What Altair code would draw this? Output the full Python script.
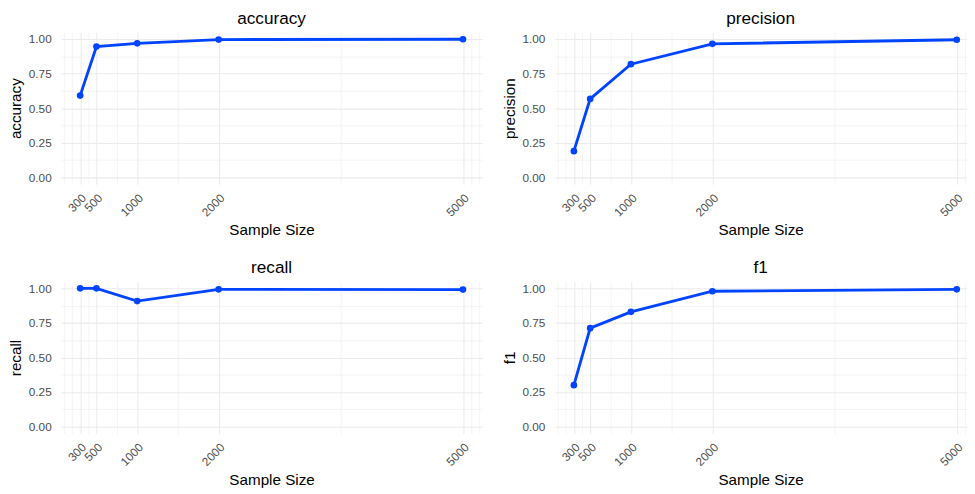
import altair as alt
import pandas as pd

# ---- data ----
sample_sizes = [300, 500, 1000, 2000, 5000]
accuracy = [0.591, 0.945, 0.969, 0.996, 0.998]
precision = [0.189, 0.567, 0.818, 0.965, 0.995]
recall = [1.000, 1.000, 0.908, 0.993, 0.991]
f1 = [0.300, 0.712, 0.830, 0.979, 0.993]

metric_names = ["accuracy", "precision", "recall", "f1"]
metric_values = [accuracy, precision, recall, f1]

x_major = [300, 500, 1000, 2000, 5000]
x_minor = [100, 200, 400, 750, 1500, 3500, 5100, 5200]
y_major = [0.0, 0.25, 0.5, 0.75, 1.0]
y_minor = [0.125, 0.375, 0.625, 0.875]

BLUE = "#0044FF"
GRID = "#EBEBEB"
FONT = "Liberation Sans"


def panel(name, values, width, x_hi):
    df = pd.DataFrame({"sample_size": sample_sizes, "value": values})
    xs = alt.Scale(domain=[65, x_hi], nice=False, zero=False)
    ys = alt.Scale(domain=[-0.05, 1.05], nice=False, zero=False)
    minor_vals = [v for v in x_minor if 65 <= v <= x_hi]
    base = alt.Chart(df)
    line = base.mark_line(color=BLUE, strokeWidth=2.9).encode(
        x=alt.X("sample_size:Q", scale=xs, title="Sample Size",
                axis=alt.Axis(values=x_major, format="d", labelAngle=-45,
                              labelAlign="right", labelBaseline="top",
                              labelOverlap=False, labelFlush=False,
                              grid=True, gridColor=GRID, gridWidth=1.1,
                              ticks=False, tickSize=0, domain=False,
                              labelPadding=8, titlePadding=5, orient="bottom")),
        y=alt.Y("value:Q", scale=ys, title=name,
                axis=alt.Axis(values=y_major, format=".2f",
                              labelOverlap=False,
                              grid=True, gridColor=GRID, gridWidth=1.1,
                              ticks=False, tickSize=0, domain=False,
                              labelPadding=10, titlePadding=5, orient="left")),
    )
    pts = base.mark_circle(color=BLUE, size=46, opacity=1).encode(
        x=alt.X("sample_size:Q", scale=xs,
                axis=alt.Axis(values=minor_vals, grid=True, gridColor=GRID,
                              gridWidth=0.55, labels=False, ticks=False,
                              domain=False, title=None, orient="bottom")),
        y=alt.Y("value:Q", scale=ys,
                axis=alt.Axis(values=y_minor, grid=True, gridColor=GRID,
                              gridWidth=0.55, labels=False, ticks=False,
                              domain=False, title=None, orient="left")),
    )
    return (
        alt.layer(line, pts)
        .resolve_axis(x="independent", y="independent")
        .properties(width=width, height=155,
                    title=alt.TitleParams(name, anchor="middle"))
    )


panels = []
for i, (n, v) in enumerate(zip(metric_names, metric_values)):
    if i % 2 == 0:
        panels.append(panel(n, v, 429, 5235))
    else:
        panels.append(panel(n, v, 419.5, 5120))

chart = (
    alt.concat(*panels, columns=2, spacing={"row": 20, "column": 20})
    .properties(padding={"left": 0, "top": -3, "right": 0, "bottom": 0})
    .configure_view(stroke=None)
    .configure_axis(labelFont=FONT, titleFont=FONT, labelFontSize=12,
                    titleFontSize=15.5, labelColor="#4D4D4D",
                    titleColor="#000000", titleFontWeight="normal")
    .configure_title(font=FONT, fontSize=17.5, fontWeight="normal",
                     color="#000000", offset=5, baseline="alphabetic")
)

chart.save("out.html", embed_options={"renderer": "svg", "actions": False})
